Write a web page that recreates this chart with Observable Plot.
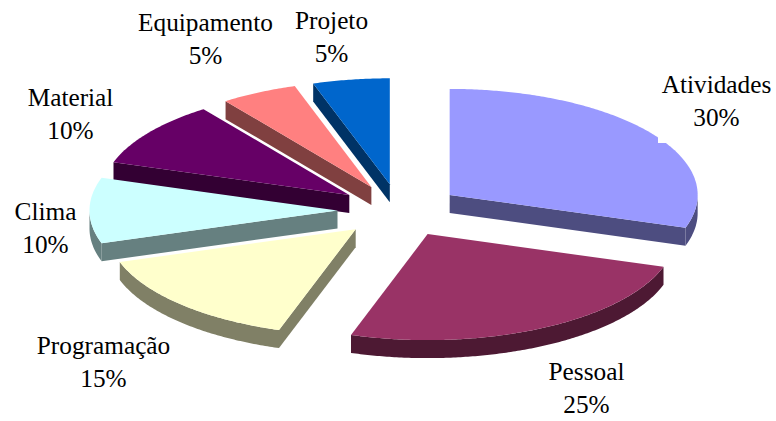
<!DOCTYPE html>
<html>
<head>
<meta charset="utf-8">
<script src="https://cdn.jsdelivr.net/npm/d3@7"></script>
<script src="https://cdn.jsdelivr.net/npm/@observablehq/plot@0.6"></script>
<style>
  html, body { margin: 0; padding: 0; background: #fff; }
  svg { display: block; }
</style>
</head>
<body>
<div id="chart"></div>
<script>
// Share of each category, clockwise from twelve o'clock.
const categories = ["Atividades", "Pessoal", "Programação", "Clima", "Material", "Equipamento", "Projeto"];
const shares = [30, 25, 15, 10, 10, 5, 5];

// Palette: slice tops and their darker walls.
const topColors = ["#9999ff", "#993366", "#ffffcc", "#ccffff", "#660066", "#ff8080", "#0066cc"];
const sideColors = ["#4d4d80", "#4d1933", "#808066", "#668080", "#330033", "#804040", "#003366"];

// Layout of the tilted pie, in SVG pixels.
const W = 776, H = 421;
const rx = 248, ry = 106, depth = 18, explode = 0.25;
const cx = 399, cy = 210;
const labelAnchors = [[716, 101], [586, 388], [103, 362], [45, 228], [70, 114], [205, 39], [331, 37]];
const labelBox = { x1: 658, x2: 776, y1: 60, y2: 143 };

const rad = d3.scaleLinear().domain([0, 100]).range([0, 2 * Math.PI]);

const slices = [];
let running = 0;
shares.forEach((share, i) => {
  const a0 = rad(running), a1 = rad(running + share);
  running += share;
  const mid = (a0 + a1) / 2;
  slices.push({
    i, a0, a1,
    ax: cx + explode * rx * Math.sin(mid),
    ay: cy - explode * ry * Math.cos(mid)
  });
});

const rim = (s, a) => [s.ax + rx * Math.sin(a), s.ay - ry * Math.cos(a)];
const arc = (s, from, to) => {
  const n = Math.max(2, Math.ceil((to - from) / 0.01));
  return d3.range(n + 1).map((k) => rim(s, from + (to - from) * k / n));
};

// Polygons in painter's order: back slices first, each with its walls under its top.
const polys = [];
const push = (ring, fill) => polys.push({ id: polys.length, fill, ring });
const radialWall = (s, a) => {
  const p = rim(s, a);
  return [[s.ax, s.ay], p, [p[0], p[1] + depth], [s.ax, s.ay + depth]];
};
const order = [4, 5, 6, 0, 3, 2, 1];
for (const i of order) {
  const s = slices[i];
  // A cut face shows only when the slice lies above it as seen by the viewer.
  if (s.a1 < Math.PI) push(radialWall(s, s.a1), sideColors[i]);
  if (s.a0 > Math.PI) push(radialWall(s, s.a0), sideColors[i]);
  // Outer wall for the part of the rim on the near half of the ellipse.
  const from = Math.max(s.a0, Math.PI / 2), to = Math.min(s.a1, 3 * Math.PI / 2);
  if (to > from) {
    const edge = arc(s, from, to);
    push([...edge, ...edge.slice().reverse().map(([x, y]) => [x, y + depth])], sideColors[i]);
  }
  push([[s.ax, s.ay], ...arc(s, s.a0, s.a1)], topColors[i]);
}

const rows = polys.flatMap((p) => p.ring.map(([x, y]) => ({ id: p.id, fill: p.fill, x, y })));
const labels = categories.flatMap((name, i) => [
  { text: name, x: labelAnchors[i][0], y: labelAnchors[i][1] - 17 },
  { text: shares[i] + "%", x: labelAnchors[i][0], y: labelAnchors[i][1] + 16 }
]);

const chart = Plot.plot({
  width: W,
  height: H,
  margin: 0,
  x: { type: "identity", axis: null },
  y: { type: "identity", axis: null },
  marks: [
    Plot.line(rows, { x: "x", y: "y", z: "id", fill: "fill", stroke: "none", curve: "linear-closed" }),
    // White backing of the first label, which clips the slice's rim.
    Plot.rect([labelBox], { x1: "x1", x2: "x2", y1: "y1", y2: "y2", fill: "#fff" }),
    Plot.text(labels, {
      x: "x", y: "y", text: "text",
      fontFamily: "Liberation Serif", fontSize: 25.3, fill: "#000", textAnchor: "middle"
    })
  ]
});
document.getElementById("chart").appendChild(chart);
</script>
</body>
</html>
